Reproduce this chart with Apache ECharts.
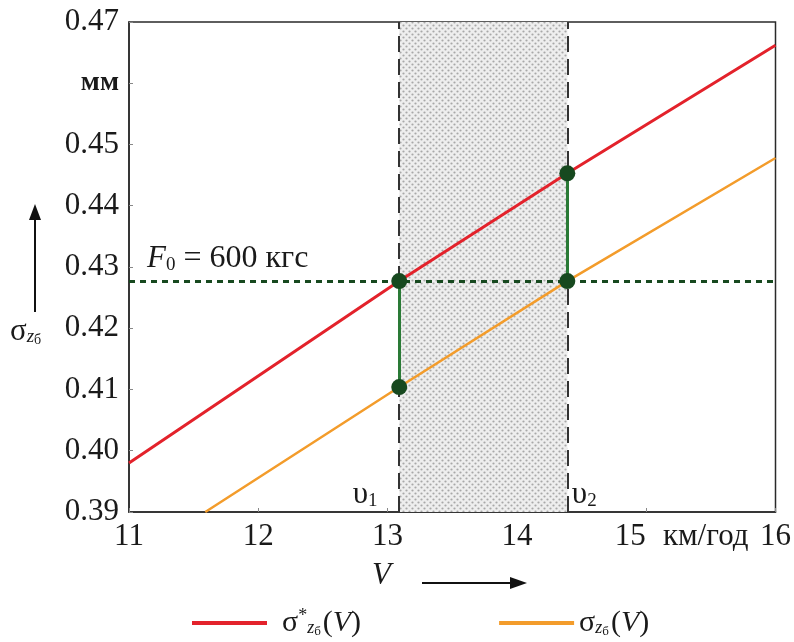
<!DOCTYPE html>
<html>
<head>
<meta charset="utf-8">
<script src="https://cdn.jsdelivr.net/npm/echarts@6/dist/echarts.min.js"></script>
<style>
  html, body { margin: 0; padding: 0; background: #fff; }
  #chart { width: 794px; height: 642px; }
</style>
</head>
<body>
<div id="chart"></div>
<script>
// значения
const speedRed = [11, 13.09, 14.39, 16]
const sigmaRed = [0.3980, 0.4277, 0.4453, 0.4662]
const speedOrange = [11.59, 13.09, 14.39, 16]
const sigmaOrange = [0.39, 0.4104, 0.4277, 0.4478]
const v1 = 13.09
const v2 = 14.39
const forceLevel = 0.4277
const yTicks = [0.39, 0.40, 0.41, 0.42, 0.43, 0.44, 0.45, 0.46, 0.47]
const xTicks = [11, 12, 13, 14, 15, 16]

const serif = 'Liberation Serif'
const green = '#17491f'

const zip = (xs, ys) => xs.map((x, i) => [x, ys[i]])

// точечная штриховка для зоны между v1 и v2
const makeDots = () => {
  const c = document.createElement('canvas')
  c.width = 6
  c.height = 6
  const ctx = c.getContext('2d')
  ctx.fillStyle = '#eeeeee'
  ctx.fillRect(0, 0, 6, 6)
  ctx.fillStyle = '#a8a8a8'
  ctx.beginPath(); ctx.arc(1.5, 1.5, 1.1, 0, Math.PI * 2); ctx.fill()
  ctx.beginPath(); ctx.arc(4.5, 4.5, 1.1, 0, Math.PI * 2); ctx.fill()
  return c
}

const myChart = echarts.init(document.getElementById('chart'), null, { renderer: 'canvas' })

const option = {
  animation: false,
  backgroundColor: '#fff',
  textStyle: { fontFamily: serif },
  grid: {
    left: 129, right: 18, top: 22, bottom: 130,
    show: true, borderColor: '#2a2a2a', borderWidth: 1.5, backgroundColor: 'transparent'
  },
  xAxis: {
    type: 'value', min: 11, max: 16, interval: 1,
    axisLine: { show: true, lineStyle: { color: '#2a2a2a', width: 1.5 } },
    axisTick: { show: true, inside: true, length: 4, lineStyle: { color: '#888' } },
    splitLine: { show: false },
    axisLabel: {
      margin: 9,
      color: '#1a1a1a',
      fontFamily: serif,
      fontSize: 31,
      formatter: val => val === 15 ? '{pad|}{n|15}{u|км/год}' : '{n|' + val + '}',
      rich: {
        n: { fontFamily: serif, fontSize: 31, color: '#1a1a1a' },
        pad: { width: 78 },
        u: { width: 100, align: 'left', fontFamily: serif, fontSize: 31, color: '#1a1a1a', padding: [0, 0, 0, 10] }
      }
    }
  },
  yAxis: {
    type: 'value', min: 0.39, max: 0.47, interval: 0.01,
    axisLine: { show: true, lineStyle: { color: '#2a2a2a', width: 1.5 } },
    axisTick: { show: true, inside: true, length: 4, lineStyle: { color: '#888' } },
    splitLine: { show: false },
    axisLabel: {
      margin: 10,
      color: '#1a1a1a',
      fontFamily: serif,
      fontSize: 31,
      formatter: val => Math.abs(val - 0.46) < 1e-6 ? '{u|мм}' : val.toFixed(2),
      rich: {
        u: { fontFamily: serif, fontSize: 28, fontWeight: 'bold', color: '#1a1a1a' }
      }
    }
  },
  legend: {
    left: 187, top: 602,
    icon: 'rect', itemWidth: 75, itemHeight: 4, itemGap: 138,
    data: ['sigmaStar', 'sigma'],
    formatter: name => name === 'sigmaStar'
      ? '{gap|}{s|σ}{sup|*}{sub|z}{sub2|б}{s|(}{i|V}{s|)}'
      : '{s|σ}{sub|z}{sub2|б}{s|(}{i|V}{s|)}',
    textStyle: {
      rich: {
        gap: { width: 10 },
        s: { fontFamily: serif, fontSize: 30, color: '#1a1a1a' },
        i: { fontFamily: serif, fontSize: 30, fontStyle: 'italic', color: '#1a1a1a' },
        sup: { fontFamily: serif, fontSize: 18, color: '#1a1a1a', padding: [0, 0, 14, 0] },
        sub: { fontFamily: serif, fontSize: 18, fontStyle: 'italic', color: '#1a1a1a', padding: [10, 0, 0, 0] },
        sub2: { fontFamily: serif, fontSize: 13, color: '#1a1a1a', padding: [18, 2, 0, 0] }
      }
    }
  },
  series: [
    {
      // зона между v1 и v2
      name: 'zone',
      type: 'line',
      data: [],
      z: 1,
      silent: true,
      markArea: {
        silent: true,
        itemStyle: { color: { image: makeDots(), repeat: 'repeat' } },
        data: [[{ xAxis: v1 }, { xAxis: v2 }]]
      },
      markLine: {
        silent: true,
        symbol: 'none',
        precision: 4,
        label: { show: false },
        lineStyle: { color: '#333', width: 2, type: [16, 7] },
        data: [{ xAxis: v1 }, { xAxis: v2 }]
      }
    },
    {
      name: 'sigmaStar',
      type: 'line',
      data: zip(speedRed, sigmaRed),
      showSymbol: false,
      z: 3,
      lineStyle: { color: '#e3222b', width: 3 },
      itemStyle: { color: '#e3222b' }
    },
    {
      name: 'sigma',
      type: 'line',
      data: zip(speedOrange, sigmaOrange),
      showSymbol: false,
      z: 3,
      lineStyle: { color: '#f39c2b', width: 2.5 },
      itemStyle: { color: '#f39c2b' }
    },
    {
      // уровень F0 и вертикальные отрезки
      name: 'level',
      type: 'line',
      data: [],
      z: 4,
      markLine: {
        silent: true,
        symbol: 'none',
        precision: 4,
        data: [
          {
            yAxis: forceLevel,
            lineStyle: { color: green, width: 3, type: [6, 5] },
            label: {
              show: true,
              position: 'insideStartTop',
              distance: [18, 6],
              formatter: '{f|F}{sub|0}{t| = 600 кгс}',
              rich: {
                f: { fontFamily: serif, fontSize: 31, fontStyle: 'italic', color: '#1a1a1a' },
                sub: { fontFamily: serif, fontSize: 19, color: '#1a1a1a', padding: [12, 0, 0, 0] },
                t: { fontFamily: serif, fontSize: 32, color: '#1a1a1a' }
              }
            }
          },
          [
            { coord: [v1, sigmaRed[1]], lineStyle: { color: '#2a7a36', width: 3, type: 'solid' }, label: { show: false } },
            { coord: [v1, sigmaOrange[1]] }
          ],
          [
            { coord: [v2, sigmaRed[2]], lineStyle: { color: '#2a7a36', width: 3, type: 'solid' }, label: { show: false } },
            { coord: [v2, sigmaOrange[2]] }
          ]
        ]
      },
      markPoint: {
        silent: true,
        symbol: 'circle',
        symbolSize: 1,
        itemStyle: { color: 'rgba(0,0,0,0)' },
        data: [
          { coord: [v1, 0.39], label: { show: true, position: [-46, -32], formatter: '{u|υ}{s|1}' } },
          { coord: [v2, 0.39], label: { show: true, position: [5, -32], formatter: '{u|υ}{s|2}' } }
        ],
        label: {
          rich: {
            u: { fontFamily: serif, fontSize: 31, color: '#1a1a1a' },
            s: { fontFamily: serif, fontSize: 19, color: '#1a1a1a', padding: [12, 0, 0, 0] }
          }
        }
      }
    },
    {
      name: 'points',
      type: 'scatter',
      z: 5,
      symbolSize: 16,
      itemStyle: { color: green, opacity: 1 },
      data: [
        [v1, sigmaRed[1]], [v1, sigmaOrange[1]],
        [v2, sigmaRed[2]], [v2, sigmaOrange[2]]
      ]
    }
  ],
  graphic: [
    // стрелка и обозначение оси ординат
    { type: 'line', shape: { x1: 35, y1: 312, x2: 35, y2: 216 }, style: { stroke: '#111', lineWidth: 2 } },
    { type: 'polygon', shape: { points: [[35, 204], [29, 220], [41, 220]] }, style: { fill: '#111' } },
    {
      type: 'text', left: 10, top: 316,
      style: {
        text: '{s|σ}{sub|z}{sub2|б}',
        rich: {
          s: { fontFamily: serif, fontSize: 31, fill: '#1a1a1a' },
          sub: { fontFamily: serif, fontSize: 19, fontStyle: 'italic', fill: '#1a1a1a', padding: [10, 0, 0, 0] },
          sub2: { fontFamily: serif, fontSize: 14, fill: '#1a1a1a', padding: [18, 0, 0, 0] }
        }
      }
    },
    // обозначение оси абсцисс и стрелка
    {
      type: 'text', left: 372, top: 560,
      style: { text: 'V', font: 'italic 31px "Liberation Serif"', fill: '#1a1a1a' }
    },
    { type: 'line', shape: { x1: 422, y1: 583, x2: 512, y2: 583 }, style: { stroke: '#111', lineWidth: 2 } },
    { type: 'polygon', shape: { points: [[527, 583], [510, 577], [510, 589]] }, style: { fill: '#111' } }
  ]
}

myChart.setOption(option)
</script>
</body>
</html>
